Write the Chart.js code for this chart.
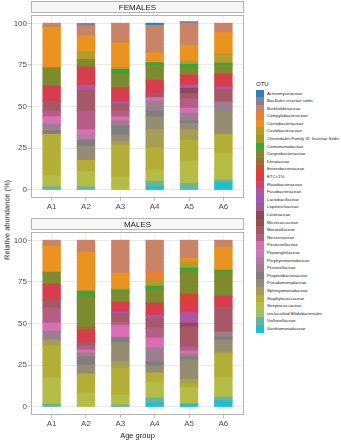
<!DOCTYPE html>
<html><head><meta charset="utf-8">
<script src="https://cdn.jsdelivr.net/npm/chart.js@4.4.1/dist/chart.umd.min.js"></script>
<style>
html,body{margin:0;padding:0;background:#fff;}
#wrap{position:relative;width:341px;height:440px;overflow:hidden;font-family:"Liberation Sans",Arial,sans-serif;}
#c1box{position:absolute;left:0;top:0;width:250px;height:217px;}
#c2box{position:absolute;left:0;top:217px;width:250px;height:223px;}
#ytitle{position:absolute;left:7px;top:220px;transform:translate(-50%,-50%) rotate(-90deg);font-size:7.5px;color:#1a1a1a;white-space:nowrap;}
#legend{position:absolute;left:256px;top:80px;}
#legend .ttl{font-size:6px;color:#1a1a1a;height:9.5px;line-height:8px;}
#legend .row{display:flex;align-items:center;height:7.6px;}
#legend .key{width:8px;height:7.6px;flex:none;}
#legend .lab{font-size:4.3px;color:#222;margin-left:3px;white-space:nowrap;line-height:7.6px;}
</style></head>
<body><div id="wrap">
<div id="c1box"><canvas id="c1" width="250" height="217"></canvas></div>
<div id="c2box"><canvas id="c2" width="250" height="223"></canvas></div>
<div id="ytitle">Relative abundance (%)</div>
<div id="legend"></div>
</div>
<script>
const ageGroups = ['A1','A2','A3','A4','A5','A6'];
const yTickValues = [0,12.5,25,37.5,50,62.5,75,87.5,100];
const otuNames = ['Actinomycetaceae','Bacillales incertae sedis','Burkholderiaceae','Campylobacteraceae','Carnobacteriaceae','Caulobacteraceae','Clostridiales Family XI. Incertae Sedis','Comamonadaceae','Corynebacteriaceae','Dietziaceae','Enterobacteriaceae','ETC<1%','Flavobacteriaceae','Fusobacteriaceae','Lactobacillaceae','Leptotrichiaceae','Listeriaceae','Micrococcaceae','Moraxellaceae','Neisseriaceae','Pasteurellaceae','Peptoniphilaceae','Porphyromonadaceae','Prevotellaceae','Propionibacteriaceae','Pseudomonadaceae','Sphingomonadaceae','Staphylococcaceae','Streptococcaceae','unclassified Bifidobacteriales','Veillonellaceae','Xanthomonadaceae'];
const otuColors = ['#2a7fc0','#8c7c96','#c98467','#ec7f34','#ea9320','#b39c2a','#9a9a28','#3aa53a','#7d8b2e','#a26a2c','#d5462e','#d73d4b','#d0436b','#b0559f','#9a5ab5','#a05a8c','#8e4a58','#94524c','#a65866','#b55d84','#d86eb4','#c97ab8','#b47aa6','#9c7f8f','#7f7d7f','#958d72','#a69e52','#b3ae35','#b6bd46','#9bc06a','#63b6a2','#1dbfd0'];

// values per age group, in OTU (legend) order
const femaleA1 = [0,0,2.4,0,24.4,0,0,0,11,0,0,9,0,0,0,0,0,0,6,3.4,4.6,0,0,4,2,0,0,25,6.6,0,1.6,0];
const femaleA2 = [0,1.6,6,0,9.5,4.6,0,0,4,1,0,10.5,0,3.2,0,0,0,0,12.5,11,3,0,3.4,0,3.6,8.5,0,6.7,9.2,0,1.6,0];
const femaleA3 = [0,0,11.7,0,15,1,0,3,8,0,0,8.5,0,0,1.2,0,0,0,4.4,3.6,2.4,0,0,3,5.4,4,2,19.1,7.7,0,0,0];
const femaleA4 = [1.2,0,16.5,0,6,0,0,1.6,9,0,0,7.9,0,0,0,0,0,0,2.6,0,2,0,0,6,3.4,7.7,11,13.4,6.7,0,3.4,1.6];
const femaleA5 = [0,1.2,13,0,9.5,2,0,2.4,4,0,0,6,0,2,0,0,3.2,0,3,5.8,3,0,0,4.6,1.6,3.8,6.2,12.5,13.6,0,3.6,0];
const femaleA6 = [0,0,5.6,0,13,5.4,0,1.2,5.4,0,0,7.7,0,1.4,0,0,0,0,7.7,0,0,0,0,6,0,13.5,0,11.3,16,0,1.8,4];
const maleA1 = [0,0,3.6,0,15.6,0,0,0,7.2,0,0,9.6,0,0,0,0,0,0,4.8,9,4.8,0,0,5.4,0,0,3.6,19.2,15.7,0,1.5,0];
const maleA2 = [0,0,7.2,0,23.4,0,0,3,18.6,1.8,0,7.2,0,0,0,0,0,0,2.4,2.4,1.8,0,0,2.4,4.8,5.4,0,11.4,8.2,0,0,0];
const maleA3 = [0,0,19.8,0,9.6,0.6,0,1.2,6,0,0,6,0,0,0.9,0,0,0,5.4,1.8,7.2,0,0,0,3,11.4,4.2,16,6,0,0.9,0];
const maleA4 = [0,0,18.6,5.4,0,3.6,0,1.8,8.4,0,0,7.2,0,2.4,0,0,0,0,5.4,6,6,0,0,8.4,2.4,4.2,0,5.4,9.7,0,3,2.1];
const maleA5 = [0,0,10.8,0,2.4,3.6,0,2.4,13.2,0,4.2,6.6,0,6.6,0,0,2.4,0,12,2.4,1.8,0,0,1.8,1.8,11.4,3,2.4,9.7,0,0,1.5];
const maleA6 = [0,0,4.2,0,13.8,0,0,1.2,14.4,0,0,6.6,0,0,0,0,0,0,15,0,0,0,0,3,1.8,7.2,1.2,14,11.9,0,2.4,3.3];

const FONT = '"Liberation Sans", Arial, sans-serif';

// legend (HTML)
const leg = document.getElementById('legend');
const t = document.createElement('div'); t.className='ttl'; t.textContent='OTU'; leg.appendChild(t);
otuNames.forEach((n,i)=>{
  const r=document.createElement('div'); r.className='row';
  const k=document.createElement('div'); k.className='key'; k.style.background=otuColors[i];
  const l=document.createElement('div'); l.className='lab'; l.textContent=n;
  r.appendChild(k); r.appendChild(l); leg.appendChild(r);
});

const panelPlugin = {
  id:'panel',
  beforeDraw(chart){
    const tb = chart.titleBlock, a = chart.chartArea, ctx = chart.ctx;
    ctx.save();
    const x0 = Math.round(a.left)+0.5, x1 = Math.round(a.right)-0.5;
    const y0 = Math.round(tb.top)+0.5, y1 = Math.round(tb.bottom-2)-0.5;
    ctx.fillStyle='#f7f7f7'; ctx.fillRect(x0,y0,x1-x0,y1-y0);
    ctx.strokeStyle='#b3b3b3'; ctx.lineWidth=1; ctx.strokeRect(x0,y0,x1-x0,y1-y0);
    ctx.restore();
  },
  afterDatasetsDraw(chart){
    const a = chart.chartArea, ctx = chart.ctx;
    ctx.save();
    ctx.strokeStyle='#b3b3b3'; ctx.lineWidth=1;
    const x0 = Math.round(a.left)+0.5, x1 = Math.round(a.right)-0.5;
    const y0 = Math.round(a.top)+0.5, y1 = Math.round(a.bottom)-0.5;
    ctx.strokeRect(x0,y0,x1-x0,y1-y0);
    ctx.restore();
  }
};

function makeChart(id, title, groups, xTitle, axisH, padBottom){
  const datasets = [];
  for (let i = otuNames.length-1; i >= 0; i--) {
    datasets.push({
      label: otuNames[i],
      data: groups.map((arr,g)=>({x:g+1, y:(arr[i]===0?null:arr[i])})),
      backgroundColor: otuColors[i],
      borderWidth: 0,
      inflateAmount: 0.6,
      barPercentage: 0.5,
      categoryPercentage: 1
    });
  }
  return new Chart(document.getElementById(id), {
    type:'bar',
    data:{datasets},
    plugins:[panelPlugin],
    options:{
      responsive:false, animation:false, devicePixelRatio:1,
      layout:{padding:{top:1,right:6,left:0,bottom:padBottom}},
      plugins:{
        legend:{display:false}, tooltip:{enabled:false},
        title:{display:true, text:title, fullSize:false, color:'#1a1a1a',
               font:{family:FONT,size:8,weight:'normal'}, padding:{top:1.5,bottom:3}}
      },
      scales:{
        x:{type:'linear', min:0.4, max:6.6, offset:false, stacked:true,
           afterBuildTicks:s=>{s.ticks=[1,2,3,4,5,6].map(v=>({value:v}));},
           afterFit:s=>{s.height=axisH;},
           ticks:{callback:v=>ageGroups[v-1], color:'#4d4d4d', font:{family:FONT,size:8}, padding:1, maxRotation:0, autoSkip:false},
           grid:{color:'#ececec', lineWidth:0.8, tickLength:3, tickColor:'#b3b3b3', drawOnChartArea:true, offset:false},
           border:{display:false},
           title:{display:!!xTitle, text:xTitle||'', color:'#1a1a1a', font:{family:FONT,size:7.5}, padding:{top:1,bottom:0}}
        },
        y:{type:'linear', min:-5, max:105, stacked:true,
           afterBuildTicks:s=>{s.ticks=yTickValues.map(v=>({value:v}));},
           afterFit:s=>{s.width=31;},
           ticks:{callback:v=>(v%25===0?String(v):''), color:'#4d4d4d', font:{family:FONT,size:8}, padding:1, autoSkip:false},
           grid:{color:c=>(c.tick && c.tick.value%25===0?'#e6e6e6':'#f2f2f2'), lineWidth:c=>(c.tick && c.tick.value%25===0?0.8:0.5),
                 tickLength:3, tickColor:c=>(c.tick && c.tick.value%25===0?'#b3b3b3':'rgba(0,0,0,0)')},
           border:{display:false}
        }
      }
    }
  });
}

makeChart('c1','FEMALES',[femaleA1,femaleA2,femaleA3,femaleA4,femaleA5,femaleA6],null,16,3);
makeChart('c2','MALES',[maleA1,maleA2,maleA3,maleA4,maleA5,maleA6],'Age group',25,0);
</script>
</body></html>
